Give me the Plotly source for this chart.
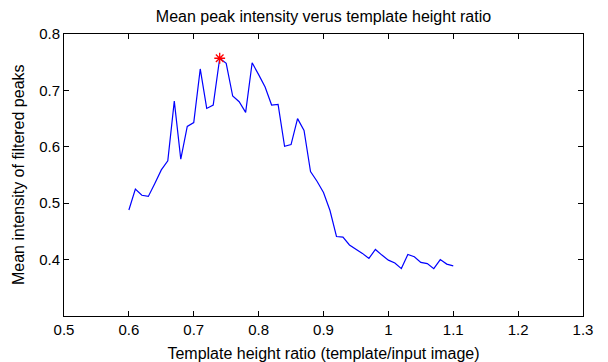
import plotly.graph_objects as go

x_vals = [0.60, 0.61, 0.62, 0.63, 0.64, 0.65, 0.66, 0.67, 0.68, 0.69,
          0.70, 0.71, 0.72, 0.73, 0.74, 0.75, 0.76, 0.77, 0.78, 0.79,
          0.80, 0.81, 0.82, 0.83, 0.84, 0.85, 0.86, 0.87, 0.88, 0.89,
          0.90, 0.91, 0.92, 0.93, 0.94, 0.95, 0.96, 0.97, 0.98, 0.99,
          1.00, 1.01, 1.02, 1.03, 1.04, 1.05, 1.06, 1.07, 1.08, 1.09, 1.10]
y_vals = [0.488, 0.525, 0.514, 0.512, 0.535, 0.559, 0.575, 0.681, 0.578, 0.636,
          0.643, 0.738, 0.668, 0.674, 0.757, 0.748, 0.690, 0.680, 0.661, 0.749,
          0.728, 0.706, 0.674, 0.675, 0.601, 0.604, 0.650, 0.629, 0.556, 0.539,
          0.519, 0.487, 0.441, 0.440, 0.426, 0.419, 0.411, 0.402, 0.418, 0.408,
          0.399, 0.394, 0.384, 0.409, 0.405, 0.395, 0.393, 0.384, 0.400, 0.392, 0.389]
peak_x = [0.74]
peak_y = [0.757]

x_ticks = [0.5, 0.6, 0.7, 0.8, 0.9, 1.0, 1.1, 1.2, 1.3]
x_labels = ["0.5", "0.6", "0.7", "0.8", "0.9", "1", "1.1", "1.2", "1.3"]
y_ticks = [0.4, 0.5, 0.6, 0.7, 0.8]
y_labels = ["0.4", "0.5", "0.6", "0.7", "0.8"]

fam = "Liberation Sans, Arial"

fig = go.Figure()
fig.add_trace(go.Scatter(x=x_vals, y=y_vals, mode="lines",
                         line=dict(color="rgb(0,0,255)", width=1.2),
                         showlegend=False, hoverinfo="skip"))
fig.add_trace(go.Scatter(x=peak_x, y=peak_y, mode="markers",
                         marker=dict(symbol="asterisk-open", size=9,
                                     line=dict(color="red", width=1.3), color="red"),
                         showlegend=False))

fig.update_layout(
    width=608, height=362,
    margin=dict(l=64, r=25, t=34, b=46),
    plot_bgcolor="white", paper_bgcolor="white",
    font=dict(family=fam, size=15, color="black"),
    title=dict(text="Mean peak intensity verus template height ratio",
               x=(64 + 583) / 2 / 608, xanchor="center", y=1 - 16 / 362, yanchor="middle",
               font=dict(family=fam, size=16, color="black")),
    xaxis=dict(range=[0.5, 1.3], tickvals=x_ticks, ticktext=x_labels,
               ticks="inside", ticklen=5, tickcolor="black", tickwidth=1,
               showline=True, linecolor="black", linewidth=1, mirror="ticks",
               showgrid=False, zeroline=False, tickfont=dict(size=15),
               automargin=False,
               title=dict(text="Template height ratio (template/input image)",
                          font=dict(size=16))),
    yaxis=dict(range=[0.3, 0.8], tickvals=y_ticks, ticktext=y_labels,
               ticks="inside", ticklen=5, tickcolor="black", tickwidth=1,
               showline=True, linecolor="black", linewidth=1, mirror="ticks",
               showgrid=False, zeroline=False, tickfont=dict(size=15),
               automargin=False),
    annotations=[dict(text="Mean intensity of filtered peaks", textangle=-90,
                      xref="paper", yref="paper", x=0, y=0.5, xshift=-46,
                      xanchor="center", yanchor="middle", showarrow=False,
                      font=dict(family=fam, size=16, color="black"))],
)

fig.write_html("out.html")
